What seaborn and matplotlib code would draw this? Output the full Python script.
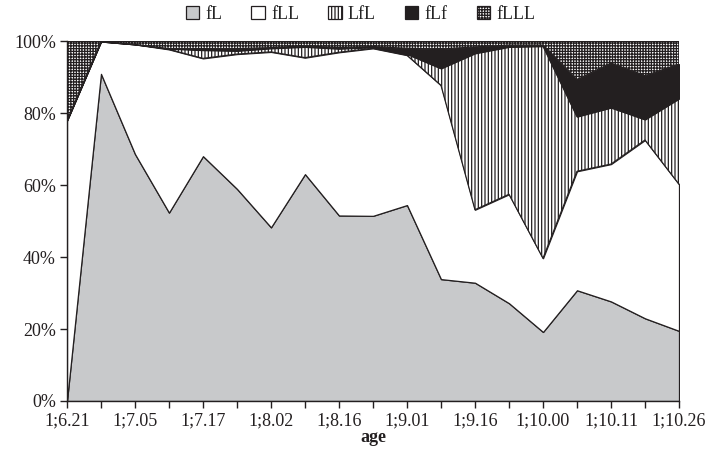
import numpy as np
import pandas as pd
import matplotlib
matplotlib.use("Agg")
import matplotlib.pyplot as plt
import seaborn as sns
from matplotlib.ticker import PercentFormatter

# Session ages (labelled every other recording session)
ages = ["1;6.21", "1;7.05", "1;7.17", "1;8.02", "1;8.16",
        "1;9.01", "1;9.16", "1;10.00", "1;10.11", "1;10.26"]
sessions = list(range(19))

# Share (%) of each form per session
fL   = [0, 91.0, 68.7, 52.4, 68.1, 59.0, 48.3, 63.1, 51.6, 51.5,
        54.5, 33.9, 32.9, 27.2, 19.2, 30.8, 27.7, 23.0, 19.5]
fLL  = [78.0, 9.0, 30.5, 45.4, 27.2, 37.5, 48.8, 32.4, 45.4, 46.6,
        41.7, 53.9, 20.3, 30.3, 20.5, 33.1, 38.2, 49.6, 40.8]
LfL  = [0, 0, 0, 0.2, 2.3, 0.9, 1.0, 3.0, 1.0, 0.3,
        0.3, 4.7, 43.5, 41.0, 59.0, 15.2, 15.7, 5.7, 23.8]
fLf  = [0, 0, 0, 0, 0.3, 0.6, 0.2, 0.3, 0.3, 0.2,
        1.6, 5.4, 1.8, 0.5, 0.3, 10.3, 12.4, 12.2, 9.6]
fLLL = [22.0, 0, 0.8, 2.0, 2.1, 2.0, 1.7, 1.2, 1.7, 1.4,
        1.9, 2.1, 1.5, 1.0, 1.0, 10.6, 6.0, 9.5, 6.3]

series = ["fL", "fLL", "LfL", "fLf", "fLLL"]
df = pd.DataFrame({"session": sessions, "fL": fL, "fLL": fLL,
                   "LfL": LfL, "fLf": fLf, "fLLL": fLLL})
shares = df[series].div(df[series].sum(axis=1), axis=0)

sns.set_theme(style="ticks")
plt.rcParams["font.family"] = ["Liberation Serif", "DejaVu Serif"]
plt.rcParams["hatch.linewidth"] = 0.9
plt.rcParams["axes.linewidth"] = 1.0

fig = plt.figure(figsize=(7.11, 4.53), dpi=100)
ax = fig.add_axes([0.0942, 0.1148, 0.8608, 0.7936])

faces = ["#c8c9cb", "white", "white", "#231f20", "white"]
hatches = [None, None, "|||||", None, "++++++"]
polys = ax.stackplot(df["session"], *[shares[s] for s in series],
                     labels=series, colors=faces, hatch=hatches,
                     edgecolor="#231f20", linewidth=0.9)

ax.set_xlim(0, 18)
ax.set_ylim(0, 1)
ax.yaxis.set_major_formatter(PercentFormatter(1.0, decimals=0))
ax.set_yticks(np.arange(0, 1.01, 0.2))
ax.set_xticks(sessions)
ax.set_xticklabels([ages[i // 2] if i % 2 == 0 else "" for i in sessions])
ax.tick_params(axis="both", direction="out", length=5, width=1,
               colors="#231f20", labelsize=13, pad=3)
ax.set_xlabel("age", fontsize=13, fontweight="bold", color="#231f20", labelpad=0)
sns.despine(ax=ax, top=True, right=True)
for sp in ("left", "bottom"):
    ax.spines[sp].set_color("#231f20")

fig.legend(polys, series, loc="center", bbox_to_anchor=(0.507, 0.968),
           ncol=5, frameon=False, fontsize=13, handlelength=0.75,
           handleheight=0.75, handletextpad=0.35, columnspacing=1.6)

fig.savefig("out.png", dpi=100)
